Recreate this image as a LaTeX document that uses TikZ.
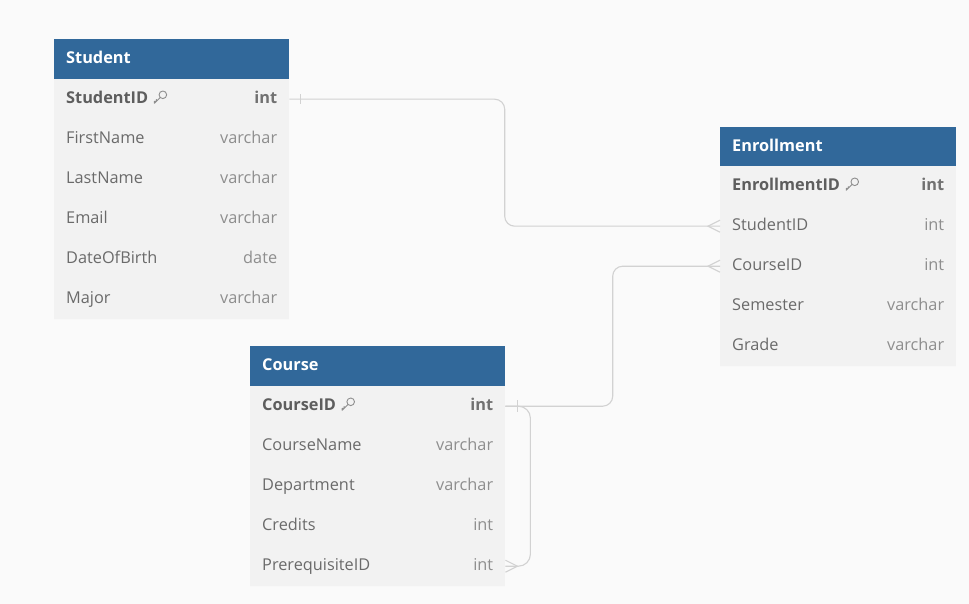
\documentclass[tikz,border=0pt]{standalone}
\usepackage{fontspec}
\setmainfont{Open Sans}
\usetikzlibrary{calc}
\definecolor{bgc}{HTML}{FAFAFA}
\definecolor{hdrc}{HTML}{31689A}
\definecolor{rowc}{HTML}{F2F2F2}
\definecolor{sepc}{HTML}{F8F8F8}
\definecolor{fieldc}{HTML}{6A6A6A}
\definecolor{typec}{HTML}{8E8E8E}
\definecolor{pkc}{HTML}{5E5E5E}
\definecolor{linec}{HTML}{D2D2D2}
\tikzset{
  hdrbox/.style={rectangle, fill=hdrc, minimum height=40pt, inner sep=0pt, anchor=north west},
  hdrtxt/.style={text=white, font=\fontsize{16.3}{19}\selectfont\bfseries, anchor=base west, inner sep=0pt},
  rowbox/.style={rectangle, fill=rowc, minimum height=40pt, inner sep=0pt, anchor=north west},
  fieldtxt/.style={text=fieldc, font=\fontsize{16.3}{19}\selectfont, anchor=base west, inner sep=0pt},
  pktxt/.style={text=pkc, font=\fontsize{16.3}{19}\selectfont\bfseries, anchor=base west, inner sep=0pt},
  typetxt/.style={text=typec, font=\fontsize{16.3}{19}\selectfont, anchor=base east, inner sep=0pt},
  pktypetxt/.style={text=typec!80!black, font=\fontsize{16.3}{19}\selectfont\bfseries, anchor=base east, inner sep=0pt},
  conn/.style={draw=linec, line width=1.1pt, rounded corners=10pt},
  endmark/.style={draw=linec, line width=1.1pt},
  keyicon/.style={draw=typec, line width=0.9pt, line cap=round, line join=round},
}
% #1 name, #2 x, #3 y, #4 width, #5 field, #6 type
\newcommand\errow[6]{%
  \node[rowbox, minimum width=#4pt] (#1) at (#2,#3) {};
  \draw[sepc, line width=0.8pt] (#1.south west) -- (#1.south east);
  \node[fieldtxt] (#1-f) at ([xshift=12pt,yshift=-4.1pt]#1.west) {#5};
  \node[typetxt] (#1-t) at ([xshift=-12pt,yshift=-4.1pt]#1.east) {#6};
}
\newcommand\erpk[6]{%
  \node[rowbox, minimum width=#4pt] (#1) at (#2,#3) {};
  \draw[sepc, line width=0.8pt] (#1.south west) -- (#1.south east);
  \node[pktxt] (#1-f) at ([xshift=12pt,yshift=-4.1pt]#1.west) {#5};
  \node[pktypetxt] (#1-t) at ([xshift=-12pt,yshift=-4.1pt]#1.east) {#6};
  \draw[keyicon] ([xshift=14.5pt,yshift=8.5pt]#1-f.base east) circle (3.8pt);
  \draw[keyicon] ([xshift=11.8pt,yshift=5.8pt]#1-f.base east) -- ([xshift=6pt,yshift=0pt]#1-f.base east)
     -- ([xshift=6pt,yshift=2pt]#1-f.base east) -- ([xshift=8pt,yshift=2pt]#1-f.base east)
     -- ([xshift=8pt,yshift=3.8pt]#1-f.base east);
}
\newcommand\erhdr[5]{%
  \node[hdrbox, minimum width=#4pt] (#1) at (#2,#3) {};
  \node[hdrtxt] (#1-t) at ([xshift=12pt,yshift=-4.1pt]#1.west) {#5};
}
\begin{document}
\begin{tikzpicture}[x=1pt,y=-1pt]
\fill[bgc] (0,0) rectangle (969,604);
\useasboundingbox (0,0) rectangle (969,604);

% Student
\erhdr{st}{54}{39}{235}{Student}
\erpk{s1}{54}{79}{235}{StudentID}{int}
\errow{s2}{54}{119}{235}{FirstName}{varchar}
\errow{s3}{54}{159}{235}{LastName}{varchar}
\errow{s4}{54}{199}{235}{Email}{varchar}
\errow{s5}{54}{239}{235}{DateOfBirth}{date}
\errow{s6}{54}{279}{235}{Major}{varchar}

% Enrollment
\erhdr{en}{720}{127}{236}{Enrollment}
\erpk{e1}{720}{166}{236}{EnrollmentID}{int}
\errow{e2}{720}{206}{236}{StudentID}{int}
\errow{e3}{720}{246}{236}{CourseID}{int}
\errow{e4}{720}{286}{236}{Semester}{varchar}
\errow{e5}{720}{326}{236}{Grade}{varchar}

% Course
\erhdr{co}{250}{346}{255}{Course}
\erpk{c1}{250}{386}{255}{CourseID}{int}
\errow{c2}{250}{426}{255}{CourseName}{varchar}
\errow{c3}{250}{466}{255}{Department}{varchar}
\errow{c4}{250}{506}{255}{Credits}{int}
\errow{c5}{250}{546}{255}{PrerequisiteID}{int}

% Connectors
\coordinate (m1) at ($(s1.east)!0.5!(e2.west)$);
\draw[conn] (s1.east) -| (m1) |- (e2.west);
\coordinate (m2) at ($(c1.east)!0.5!(e3.west)$);
\draw[conn] (c1.east) -| (m2) |- (e3.west);
\draw[conn, rounded corners=12pt] (c1.east) -- ([xshift=25pt]c1.east) |- (c5.east);

% one marks
\draw[endmark] ([xshift=11pt,yshift=5pt]s1.east) -- ([xshift=11pt,yshift=-5pt]s1.east);
\draw[endmark] ([xshift=12pt,yshift=6pt]c1.east) -- ([xshift=12pt,yshift=-6pt]c1.east);
% many marks
\draw[endmark] ([yshift=6pt]e2.west) -- ([xshift=-12pt]e2.west) -- ([yshift=-6pt]e2.west);
\draw[endmark] ([yshift=6pt]e3.west) -- ([xshift=-12pt]e3.west) -- ([yshift=-6pt]e3.west);
\draw[endmark] ([yshift=6pt]c5.east) -- ([xshift=12pt]c5.east) -- ([yshift=-6pt]c5.east);
\end{tikzpicture}
\end{document}
